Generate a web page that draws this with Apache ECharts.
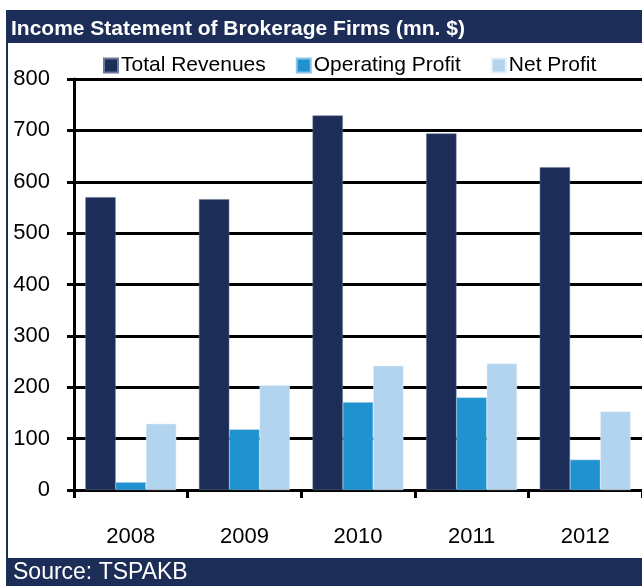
<!DOCTYPE html>
<html>
<head>
<meta charset="utf-8">
<script src="https://cdn.jsdelivr.net/npm/echarts@6/dist/echarts.min.js"></script>
<style>
  html, body { margin: 0; padding: 0; background: #fff; }
  #chart { width: 642px; height: 586px; }
</style>
</head>
<body>
<div id="chart"></div>
<script>
var years = ['2008', '2009', '2010', '2011', '2012'];
var totalRevenues = [570, 566, 729, 694, 628];
var operatingProfit = [15, 118, 171, 180, 59];
var netProfit = [129, 204, 242, 246, 153];

var navy = '#1c2d57';
var font = 'Liberation Sans, Arial, sans-serif';

var myChart = echarts.init(document.getElementById('chart'));
var option = {
    animation: false,
    backgroundColor: '#fff',
    graphic: [
        { type: 'rect', shape: { x: 6, y: 10, width: 640, height: 33 }, style: { fill: navy } },
        { type: 'rect', shape: { x: 6, y: 10, width: 2, height: 576 }, style: { fill: navy } },
        { type: 'rect', shape: { x: 6, y: 558, width: 640, height: 28 }, style: { fill: navy } },
        {
            type: 'text', x: 11, y: 29,
            style: { text: 'Income Statement of Brokerage Firms (mn. $)', fill: '#fff',
                     font: 'bold 21px ' + font, textVerticalAlign: 'middle' }
        },
        {
            type: 'text', x: 13, y: 573,
            style: { text: 'Source: TSPAKB', fill: '#fff',
                     font: '23px ' + font, textVerticalAlign: 'middle' }
        }
    ],
    legend: {
        left: 103,
        top: 55,
        padding: 0,
        itemWidth: 14,
        itemHeight: 14,
        itemGap: 30,
        icon: 'rect',
        textStyle: { fontFamily: font, fontSize: 21, color: '#000', padding: [0, 0, 0, -2] }
    },
    grid: { left: 74, top: 79, width: 573, height: 411, containLabel: false },
    xAxis: {
        type: 'category',
        data: years,
        boundaryGap: true,
        axisLine: { lineStyle: { color: '#000', width: 3 } },
        axisTick: { show: true, alignWithLabel: false, length: 8, lineStyle: { color: '#000', width: 3 } },
        axisLabel: { margin: 36, fontFamily: font, fontSize: 22, color: '#000' }
    },
    yAxis: {
        type: 'value',
        min: 0,
        max: 800,
        interval: 100,
        axisLine: { show: true, lineStyle: { color: '#000', width: 3 } },
        axisTick: { show: true, length: 7, lineStyle: { color: '#000', width: 3 } },
        axisLabel: { margin: 24, fontFamily: font, fontSize: 22, color: '#000' },
        splitLine: { lineStyle: { color: '#000', width: 3 } }
    },
    series: [
        {
            name: 'Total Revenues', type: 'bar', data: totalRevenues,
            barGap: '0%', barCategoryGap: '20%',
            itemStyle: { color: navy, borderColor: '#6b7a99', borderWidth: 0.5 }
        },
        {
            name: 'Operating Profit', type: 'bar', data: operatingProfit,
            itemStyle: { color: '#2192d0', borderColor: '#8cc4e6', borderWidth: 0.5 }
        },
        {
            name: 'Net Profit', type: 'bar', data: netProfit,
            itemStyle: { color: '#b3d4ee', borderColor: '#e4f0fa', borderWidth: 0.5 }
        }
    ]
};
myChart.setOption(option);
</script>
</body>
</html>
